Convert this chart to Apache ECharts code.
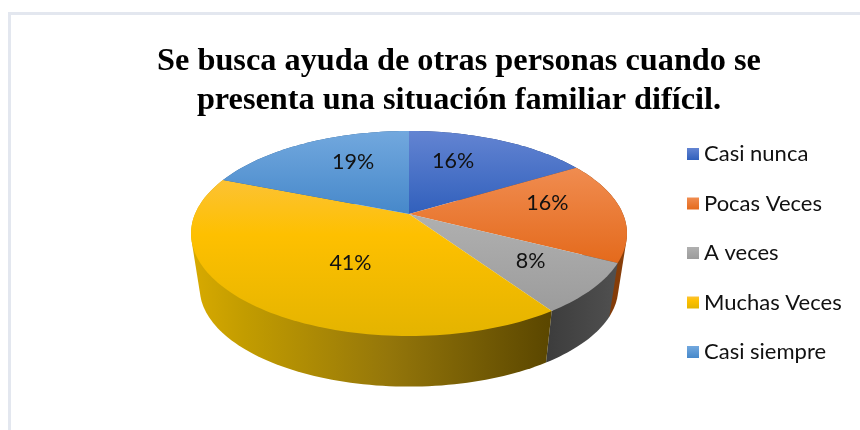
<!DOCTYPE html>
<html>
<head>
<meta charset="utf-8">
<style>html,body{margin:0;padding:0;background:#fff}#c{width:860px;height:430px}</style>
<script src="https://cdn.jsdelivr.net/npm/echarts@6/dist/echarts.min.js"></script>
</head>
<body>
<div id="c"></div>
<script>
var titleText = 'Se busca ayuda de otras personas cuando se\npresenta una situación familiar difícil.';
var categories = ['Casi nunca', 'Pocas Veces', 'A veces', 'Muchas Veces', 'Casi siempre'];
var values = [16.4, 16.1, 8.0, 40.5, 19.0];
var topColors = [
  ['#6384d2', '#3160bc'],
  ['#f08c50', '#e46a1c'],
  ['#b0b0b0', '#9c9c9c'],
  ['#fcc234', '#e4b400'],
  ['#72a8de', '#4688ca']
];
var wallColors = [
  ['#1c3a72', '#1c3a72'],
  ['#6e3205', '#8a3f0a'],
  ['#3c3c3c', '#505050'],
  ['#d8aa00', '#5a4600'],
  ['#2a5d90', '#2a5d90']
];
var labelAngleShift = [-8.5, -7.7, -1.5, -10, 7.7];
var labelRadius = [0.64, 0.67, 0.68, 0.52, 0.65];

// Perspective model of the tilted disc
var cx = 409, apexY = 214, radius = 214, squash = 98.8, persp = 0.19;
var floorScale = 0.96, floorApexY = 269.5;

var total = values.reduce(function (a, b) { return a + b; }, 0);
function project(deg, rho, scale, ay) {
  var a = deg * Math.PI / 180;
  var u = Math.sin(a) * rho, v = -Math.cos(a) * rho;
  var w = 1 / (1 - persp * v);
  return [cx + scale * radius * u * w, ay + scale * squash * v * w];
}
function arc(a0, a1, scale, ay) {
  var n = Math.max(4, Math.ceil(Math.abs(a1 - a0) / 1.5)), pts = [];
  for (var i = 0; i <= n; i++) pts.push(project(a0 + (a1 - a0) * i / n, 1, scale, ay));
  return pts;
}
// Convex outline of a slice's rim, so the wall reaches the disc's side silhouette.
function hull(points) {
  var p = points.slice().sort(function (a, b) { return a[0] - b[0] || a[1] - b[1]; });
  function cross(o, a, b) { return (a[0] - o[0]) * (b[1] - o[1]) - (a[1] - o[1]) * (b[0] - o[0]); }
  function half(list) {
    var out = [];
    list.forEach(function (q) {
      while (out.length > 1 && cross(out[out.length - 2], out[out.length - 1], q) <= 0) out.pop();
      out.push(q);
    });
    out.pop();
    return out;
  }
  return half(p).concat(half(p.slice().reverse()));
}
function vGrad(c, i) {
  var stops = [{ offset: 0, color: c[0] }, { offset: 1, color: c[1] }];
  if (i === 3) stops = [{ offset: 0, color: c[0] }, { offset: 0.35, color: '#fec000' }, { offset: 1, color: c[1] }];
  return { type: 'linear', x: 0, y: 0, x2: 0, y2: 1, colorStops: stops };
}
function wallGrad(c, i) {
  var stops = [{ offset: 0, color: c[0] }, { offset: 1, color: c[1] }];
  if (i === 3) stops = [{ offset: 0, color: c[0] }, { offset: 0.15, color: '#c29c00' }, { offset: 0.55, color: '#94760a' }, { offset: 1, color: c[1] }];
  return { type: 'linear', x: 0, y: 0, x2: 1, y2: 0, colorStops: stops };
}

var series = categories.map(function (name, idx) {
  return {
    type: 'custom',
    name: name,
    coordinateSystem: 'none',
    silent: true,
    itemStyle: { color: vGrad(topColors[idx], idx) },
    data: [[values[idx]]],
    renderItem: function (params, api) {
      var before = 0;
      for (var i = 0; i < idx; i++) before += values[i];
      var a0 = before / total * 360, a1 = (before + api.value(0)) / total * 360;
      var mid = (a0 + a1) / 2 + labelAngleShift[idx];
      var top = arc(a0, a1, 1, apexY);
      var floor = arc(a0, a1, floorScale, floorApexY);
      var lp = project(mid, labelRadius[idx], 1, apexY);
      return {
        type: 'group',
        children: [
          { type: 'polygon', z2: 1, shape: { points: hull(top.concat(floor)) }, style: { fill: wallGrad(wallColors[idx], idx) } },
          { type: 'polygon', z2: 2, shape: { points: [[cx, apexY]].concat(top) }, style: { fill: vGrad(topColors[idx], idx) } },
          { type: 'text', z2: 3, x: lp[0], y: lp[1], style: {
              text: Math.round(api.value(0)) + '%', fill: '#111', font: '21.5px Lato',
              textAlign: 'center', textVerticalAlign: 'middle' } }
        ]
      };
    }
  };
});

var chart = echarts.init(document.getElementById('c'), null, { renderer: 'canvas' });
chart.setOption({
  animation: false,
  backgroundColor: '#ffffff',
  title: {
    text: titleText, left: 454, top: 37, textAlign: 'center',
    textStyle: { fontFamily: 'Liberation Serif', fontWeight: 'bold', fontSize: 32.3, lineHeight: 39, color: '#000' }
  },
  legend: {
    orient: 'vertical', left: 682, top: 138, itemWidth: 12, itemHeight: 12, itemGap: 27.5,
    data: categories, icon: 'rect', selectedMode: false,
    textStyle: { fontFamily: 'Lato', fontSize: 22, lineHeight: 22, color: '#111' }
  },
  graphic: [
    { type: 'rect', silent: true, shape: { x: 8, y: 13, width: 3, height: 417 }, style: { fill: '#e3e7ef' } },
    { type: 'rect', silent: true, shape: { x: 8, y: 12, width: 852, height: 3 }, style: { fill: '#e3e7ef' } }
  ],
  series: series
});
</script>
</body>
</html>
